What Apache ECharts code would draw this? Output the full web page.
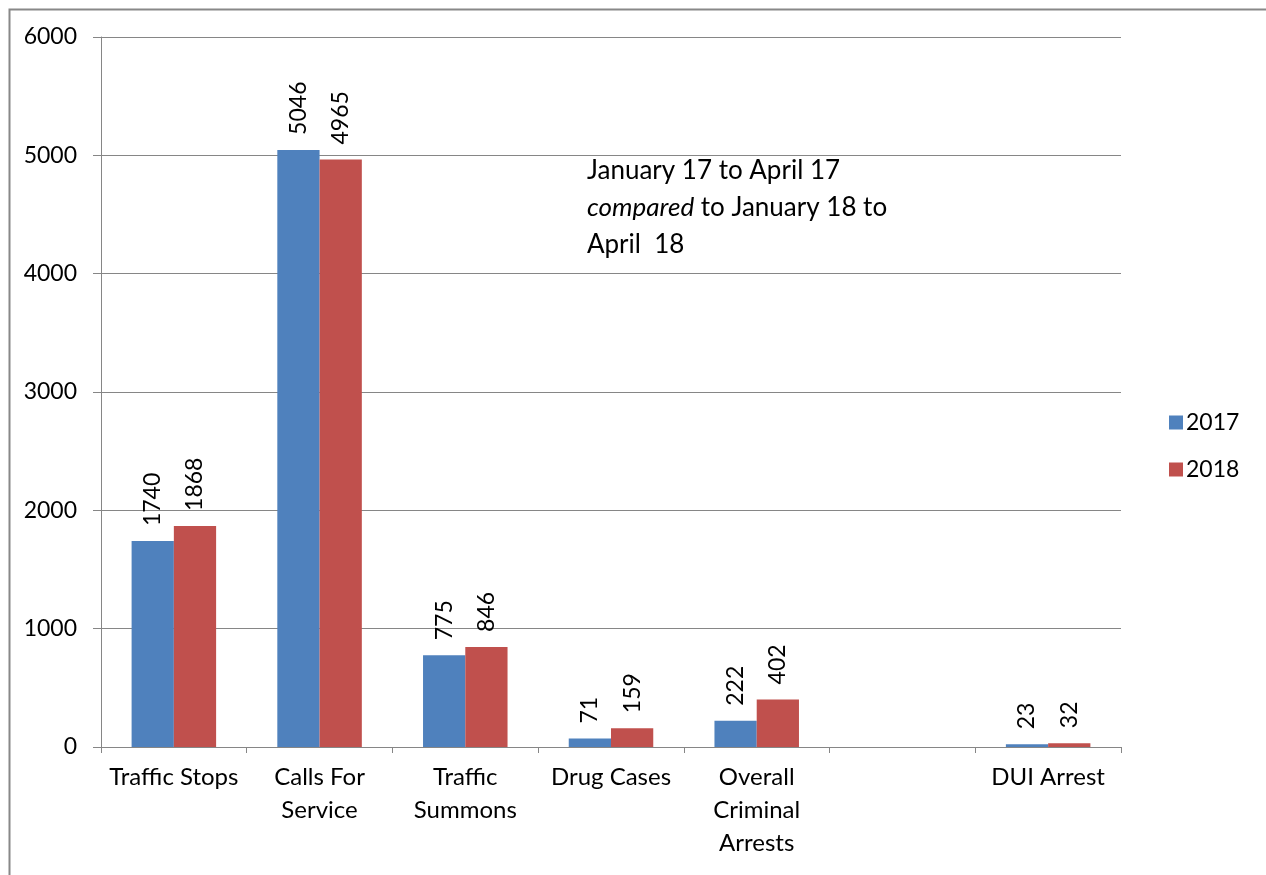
<!DOCTYPE html>
<html>
<head>
<meta charset="utf-8">
<script src="https://cdn.jsdelivr.net/npm/echarts@6/dist/echarts.min.js"></script>
<style>
  html, body { margin: 0; padding: 0; background: #fff; }
  #chart { width: 1266px; height: 875px; }
</style>
</head>
<body>
<div id="chart"></div>
<script>
const categories = [
  "Traffic Stops",
  "Calls For\nService",
  "Traffic\nSummons",
  "Drug Cases",
  "Overall\nCriminal\nArrests",
  "",
  "DUI Arrest",
];
const values2017 = [1740, 5046, 775, 71, 222, null, 23];
const values2018 = [1868, 4965, 846, 159, 402, null, 32];
const yTicks = { min: 0, max: 6000, interval: 1000 };

const FONT = "Lato";
const gridColor = "#868686";

const chart = echarts.init(document.getElementById("chart"));

const barLabel = {
  show: true,
  position: "top",
  rotate: 90,
  align: "left",
  verticalAlign: "middle",
  distance: 15,
  fontFamily: FONT,
  fontSize: 23,
  color: "#000",
};

const option = {
  animation: false,
  textStyle: { fontFamily: FONT },
  grid: { left: 101, right: 145, top: 37, bottom: 128 },
  legend: {
    orient: "vertical",
    left: 1164,
    top: 406,
    itemWidth: 14,
    itemHeight: 14,
    itemGap: 24,
    icon: "rect",
    textStyle: { fontFamily: FONT, fontSize: 23, color: "#000", padding: [0, 0, 0, -2] },
    data: ["2017", "2018"],
  },
  xAxis: {
    type: "category",
    data: categories,
    axisLine: { lineStyle: { color: gridColor, width: 1 } },
    axisTick: { show: true, length: 6, lineStyle: { color: gridColor } },
    axisLabel: {
      interval: 0,
      margin: 14,
      fontFamily: FONT,
      fontSize: 24,
      lineHeight: 33,
      color: "#000",
    },
  },
  yAxis: {
    type: "value",
    min: yTicks.min,
    max: yTicks.max,
    interval: yTicks.interval,
    axisLine: { show: true, lineStyle: { color: gridColor, width: 1 } },
    axisTick: { show: true, length: 8, inside: false, lineStyle: { color: gridColor } },
    splitLine: { lineStyle: { color: gridColor, width: 1 } },
    axisLabel: {
      margin: 24,
      fontFamily: FONT,
      fontSize: 23,
      color: "#000",
      formatter: (v) => String(v),
    },
  },
  series: [
    {
      name: "2017",
      type: "bar",
      data: values2017,
      barGap: "0%",
      barCategoryGap: "42%",
      itemStyle: { color: "#4F81BD" },
      label: barLabel,
    },
    {
      name: "2018",
      type: "bar",
      data: values2018,
      itemStyle: { color: "#C0504D" },
      label: barLabel,
    },
  ],
  graphic: [
    {
      type: "rect",
      left: 7,
      top: 7,
      shape: { width: 1300, height: 900 },
      style: { fill: null, stroke: "#888", lineWidth: 2 },
      silent: true,
      z: -1,
    },
    {
      type: "text",
      left: 587,
      top: 152,
      style: {
        text: "January 17 to April 17\n{i|compared} to January 18 to\nApril  18",
        font: "26px " + FONT,
        fill: "#000",
        lineHeight: 37,
        rich: {
          i: { fontStyle: "italic", fontFamily: FONT, fontSize: 26, fill: "#000" },
        },
      },
    },
  ],
};

chart.setOption(option);
</script>
</body>
</html>
